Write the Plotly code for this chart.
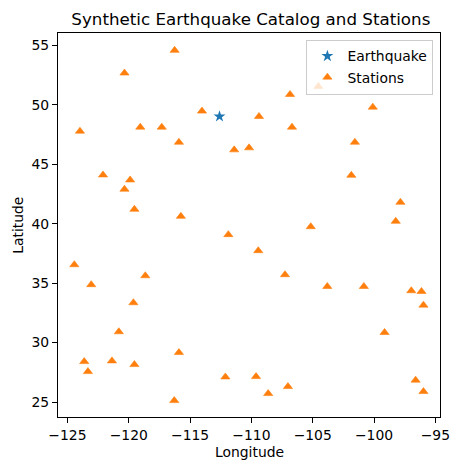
import plotly.graph_objects as go

quake_lon = [-112.6]
quake_lat = [49.02]

station_lon = [
    -116.26, -120.35, -114.03, -123.98, -119.06, -117.31, -115.91, -111.40, -110.19, -122.10,
    -119.89, -120.35, -119.54, -115.75, -104.54, -106.85, -100.10, -109.38, -106.69, -101.56,
    -101.85, -97.85, -98.23, -105.16, -111.88, -124.44, -118.65, -123.06, -119.62, -120.81,
    -123.63, -121.37, -123.33, -119.54, -115.91, -112.12, -116.29, -109.44, -107.26, -103.81,
    -100.83, -96.96, -96.13, -95.97, -99.14, -109.62, -107.02, -108.63, -96.61, -95.97,
]
station_lat = [
    54.58, 52.67, 49.47, 47.78, 48.12, 48.12, 46.85, 46.21, 46.38, 44.10,
    43.68, 42.90, 41.21, 40.62, 51.55, 50.87, 49.80, 49.02, 48.12, 46.85,
    44.07, 41.80, 40.20, 39.75, 39.08, 36.55, 35.62, 34.87, 33.35, 30.91,
    28.40, 28.46, 27.56, 28.15, 29.16, 27.11, 25.12, 37.73, 35.71, 34.72,
    34.72, 34.36, 34.30, 33.15, 30.85, 27.14, 26.30, 25.71, 26.84, 25.88,
]

x_ticks = [-125, -120, -115, -110, -105, -100, -95]
y_ticks = [25, 30, 35, 40, 45, 50, 55]

FONT = "DejaVu Sans"

fig = go.Figure()
fig.add_trace(go.Scatter(
    x=quake_lon, y=quake_lat, mode="markers", name="Earthquake",
    marker=dict(symbol="star", size=9, color="#1f77b4", line=dict(width=0)),
))
fig.add_trace(go.Scatter(
    x=station_lon, y=station_lat, mode="markers", name="Stations",
    marker=dict(symbol="triangle-up", size=8, color="#ff7f0e", line=dict(width=0.6, color="#ff7f0e")),
))

W, H = 462, 470
L, R, T, B = 57.7, 444.0, 32.7, 416.7

fig.update_layout(
    width=W, height=H,
    margin=dict(l=L, r=W - R, t=T, b=H - B, pad=0),
    paper_bgcolor="white", plot_bgcolor="white",
    font=dict(family=FONT, size=13.9, color="black"),
    title=dict(text="Synthetic Earthquake Catalog and Stations",
               font=dict(family=FONT, size=16.7, color="black"),
               x=(L + R) / 2 / W, xanchor="center", xref="container",
               y=1 - 19 / H, yanchor="middle", yref="container"),
    showlegend=True,
    legend=dict(x=0.9827, y=0.983, xanchor="right", yanchor="top",
                bgcolor="rgba(255,255,255,0.8)", bordercolor="#cccccc", borderwidth=1,
                font=dict(family=FONT, size=13.9, color="black")),
)
fig.update_xaxes(
    range=[-125.77, -94.62], tickvals=x_ticks, ticktext=[f"\u2212{abs(v)}" for v in x_ticks],
    showgrid=False, zeroline=False, showline=True, linecolor="black", linewidth=1.1,
    mirror=True, ticks="outside", ticklen=5, tickwidth=1.1, tickcolor="black",
    tickfont=dict(family=FONT, size=13.9, color="black"),
)
fig.update_yaxes(
    range=[23.74, 56.04], tickvals=y_ticks, ticktext=[str(v) for v in y_ticks],
    showgrid=False, zeroline=False, showline=True, linecolor="black", linewidth=1.1,
    mirror=True, ticks="outside", ticklen=5, tickwidth=1.1, tickcolor="black",
    tickfont=dict(family=FONT, size=13.9, color="black"),
)
fig.add_annotation(text="Longitude", xref="paper", yref="paper", x=0.5, y=(B - 452) / (B - T),
                   showarrow=False, xanchor="center", yanchor="middle",
                   font=dict(family=FONT, size=13.9, color="black"))
fig.add_annotation(text="Latitude", xref="paper", yref="paper", x=(17 - L) / (R - L), y=0.5,
                   showarrow=False, xanchor="center", yanchor="middle", textangle=-90,
                   font=dict(family=FONT, size=13.9, color="black"))

fig.write_html("out.html")
